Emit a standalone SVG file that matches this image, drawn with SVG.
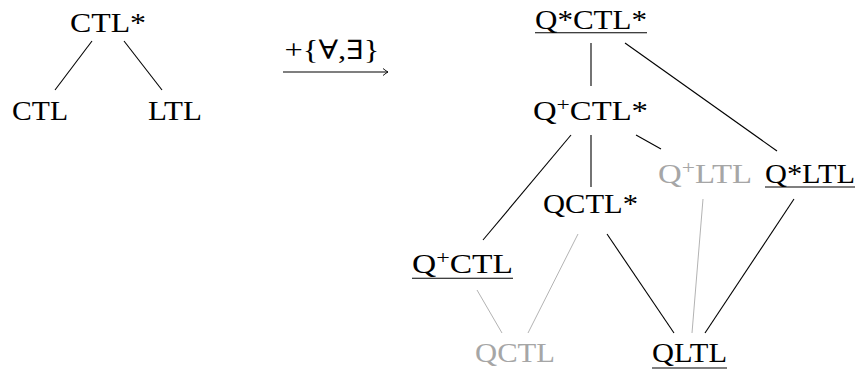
<svg xmlns="http://www.w3.org/2000/svg" width="856" height="372" viewBox="0 0 856 372">
<style>
text{font-family:"Liberation Serif","DejaVu Serif",serif;font-size:26.5px;text-anchor:middle;fill:#000}
.g text{fill:#a6a6a6}
.sup{font-size:19px}
.e{stroke:#000;stroke-width:1.1;fill:none}
.eg{stroke:#b3b3b3;stroke-width:1;fill:none}
.u{stroke:#000;stroke-width:1.1}
</style>
<defs>
<marker id="ah" markerWidth="10" markerHeight="10" refX="8" refY="5" orient="auto" markerUnits="userSpaceOnUse">
<path d="M3,1.5 Q6.5,4.3 8,5 Q6.5,5.7 3,8.5" fill="none" stroke="#000" stroke-width="0.9"/>
</marker>
</defs>
<g id="connectors">
<line class="e" x1="92" y1="41" x2="55" y2="90"/>
<line class="e" x1="124" y1="41" x2="162" y2="90"/>
<line class="e" x1="283" y1="72" x2="388" y2="72" marker-end="url(#ah)"/>
<line class="e" x1="591" y1="43" x2="591" y2="86"/>
<line class="e" x1="625" y1="43" x2="777" y2="151"/>
<line class="e" x1="571" y1="135" x2="483" y2="240"/>
<line class="e" x1="591" y1="135" x2="591" y2="187"/>
<line class="e" x1="636" y1="135" x2="661" y2="149"/>
<line class="eg" x1="578" y1="234" x2="528" y2="333"/>
<line class="e" x1="607" y1="234" x2="674" y2="333"/>
<line class="eg" x1="703" y1="199" x2="692" y2="333"/>
<line class="e" x1="794" y1="199" x2="705" y2="333"/>
<line class="eg" x1="477" y1="290" x2="502" y2="333"/>
</g>
<g id="ctlstar"><text x="108" y="32" textLength="76" lengthAdjust="spacingAndGlyphs">CTL*</text></g>
<g id="ctl"><text x="40" y="120" textLength="56" lengthAdjust="spacingAndGlyphs">CTL</text></g>
<g id="ltl"><text x="175" y="120" textLength="54" lengthAdjust="spacingAndGlyphs">LTL</text></g>
<g id="arrowlabel"><text x="332" y="59" textLength="95" lengthAdjust="spacingAndGlyphs">+{∀,∃}</text></g>
<g id="qsctlstar"><text x="591" y="29" textLength="112" lengthAdjust="spacingAndGlyphs">Q*CTL*</text><line class="u" x1="535" y1="32.7" x2="647" y2="32.7"/></g>
<g id="qpctlstar"><text x="590.5" y="120" textLength="115" lengthAdjust="spacingAndGlyphs">Q<tspan class="sup" dy="-9">+</tspan><tspan dy="9">CTL*</tspan></text></g>
<g id="qpltl" class="g"><text x="705" y="183" textLength="94" lengthAdjust="spacingAndGlyphs">Q<tspan class="sup" dy="-9">+</tspan><tspan dy="9">LTL</tspan></text></g>
<g id="qsltl"><text x="810" y="183" textLength="90" lengthAdjust="spacingAndGlyphs">Q*LTL</text><line class="u" x1="765" y1="187" x2="855" y2="187"/></g>
<g id="qctlstar"><text x="590.5" y="213" textLength="95" lengthAdjust="spacingAndGlyphs">QCTL*</text></g>
<g id="qpctl"><text x="462.5" y="273" textLength="101" lengthAdjust="spacingAndGlyphs">Q<tspan class="sup" dy="-9">+</tspan><tspan dy="9">CTL</tspan></text><line class="u" x1="412" y1="278.3" x2="513" y2="278.3"/></g>
<g id="qctl" class="g"><text x="515" y="362" textLength="80" lengthAdjust="spacingAndGlyphs">QCTL</text></g>
<g id="qltl"><text x="689.5" y="362" textLength="75" lengthAdjust="spacingAndGlyphs">QLTL</text><line class="u" x1="652" y1="368" x2="727" y2="368"/></g>
</svg>
